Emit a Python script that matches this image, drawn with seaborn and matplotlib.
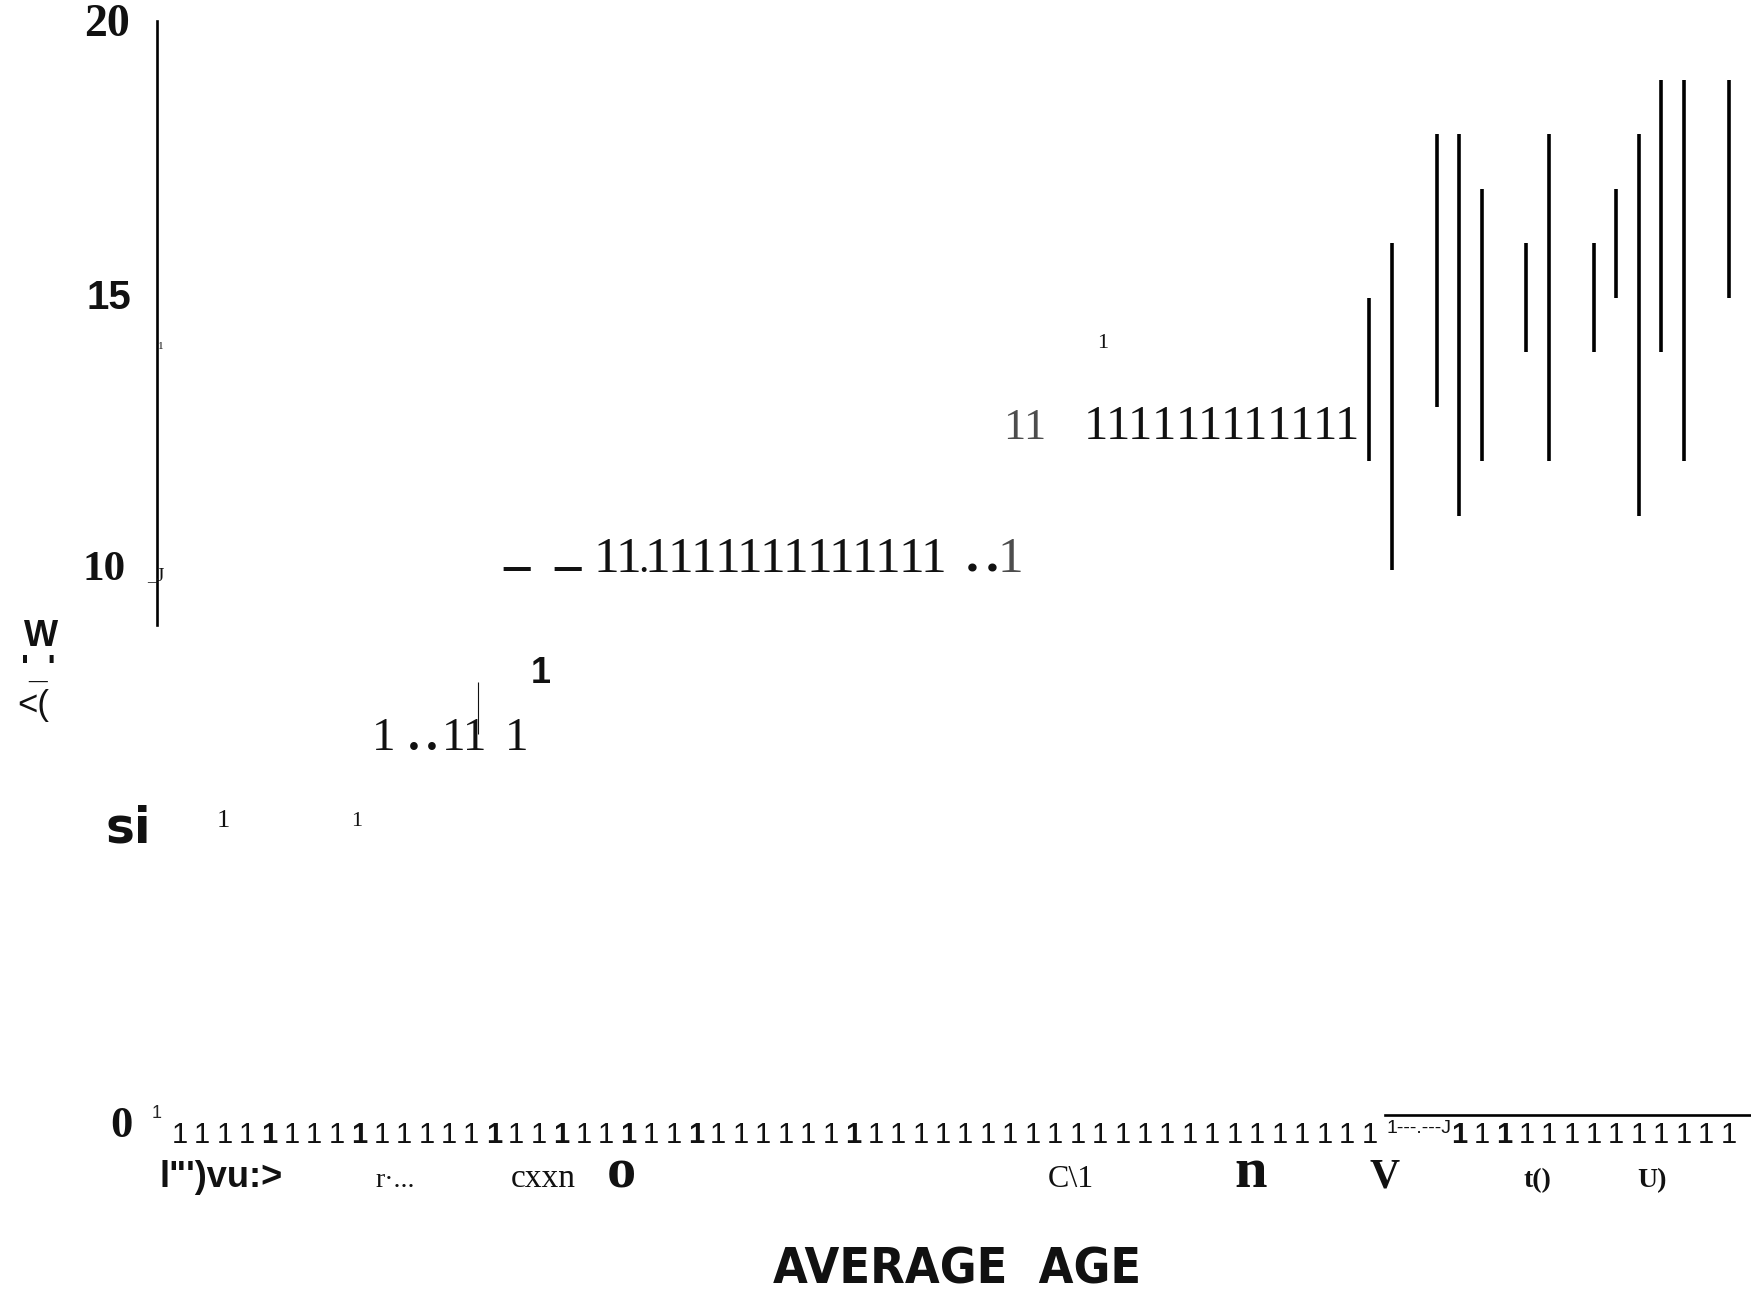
import matplotlib
matplotlib.use("Agg")
import matplotlib.pyplot as plt
from matplotlib import font_manager
import pandas as pd
import seaborn as sns

# range bars on the right: x position, low and high value
bar_x = [54, 55, 57, 58, 59, 61, 62, 64, 65, 66, 67, 68, 70]
bar_low = [12, 10, 13, 11, 12, 14, 12, 14, 15, 11, 14, 12, 15]
bar_high = [15, 16, 18, 18, 17, 16, 18, 16, 17, 18, 19, 19, 19]

# bottom tick row
tick_pos = list(range(1, 71))
tick_bold = [5, 9, 15, 18, 21, 24, 31, 58, 60]
tick_gap = [55, 56, 57]

ytick_vals = [20, 15, 10, 5.25, -0.2]
ytick_text = ["20", "15", "10", "si", "0"]

xlab_pos = [2.85, 10.6, 17.2, 20.7, 40.7, 48.7, 54.7, 61.5, 66.6]
xlab_text = ["l\"')vu:>", "r·...", "cxxn", "o", "C\\1", "n", "V", "t()", "U)"]

# short marks that came out as "1" glyphs
row10_x = [20.0, 21.0, 22.3, 23.3, 24.35, 25.4, 26.4, 27.4, 28.45, 29.5,
           30.5, 31.5, 32.55, 33.6, 34.6]
row10_y = 9.97
row12_x = [41.8, 42.8, 43.8, 44.85, 45.9, 46.9, 47.9, 48.9, 49.95, 51.0, 52.0, 53.0]
row12_thin_x = [38.2, 39.05]
row12_y = 12.4
row7_x = [10.1, 16.0]
row7_pair_x = 13.72
row7_y = 6.7
dash_x = [16.0, 18.3]
dash_y = 10.02


def fam(*names):
    for n in names:
        try:
            font_manager.findfont(font_manager.FontProperties(family=n),
                                  fallback_to_default=False)
            return n
        except ValueError:
            pass
    return "DejaVu Sans"


SERIF = fam("Liberation Serif", "DejaVu Serif")
SANS = fam("Liberation Sans", "DejaVu Sans")
NARROW = fam("Liberation Sans Narrow", "Liberation Sans", "DejaVu Sans")

# a condensed bold face for the axis title, if one is installed
cond_path = font_manager.findfont(font_manager.FontProperties(
    family="DejaVu Sans", stretch="condensed", weight="bold"))
if "Condensed" in cond_path:
    TITLE = dict(family="DejaVu Sans", fontstretch="condensed", fontsize=36)
elif NARROW == "Liberation Sans Narrow":
    TITLE = dict(family=NARROW, fontsize=40)
else:
    TITLE = dict(family=SANS, fontsize=34)

sns.set_theme(style="white")
plt.rcParams["font.family"] = [SANS, "DejaVu Sans"]
plt.rcParams["lines.solid_capstyle"] = "butt"

W, H = 1751, 1291
fig = plt.figure(figsize=(W / 100, H / 100), dpi=100)
ax = fig.add_axes([157 / W, 176 / H, 1 - 157 / W, 1115 / H])

df = pd.DataFrame({
    "x": bar_x + bar_x,
    "y": bar_low + bar_high,
    "bar": list(range(len(bar_x))) * 2,
})
sns.lineplot(data=df, x="x", y="y", units="bar", estimator=None, sort=False,
             color="black", lw=2.6, legend=False, ax=ax)

ax.set_xlim(0, 71)
ax.set_ylim(0, 20.46)
ax.set_xlabel("")
ax.set_ylabel("")

for s in ["top", "right"]:
    ax.spines[s].set_visible(False)
ax.spines["left"].set_bounds(9.0, 20.08)
ax.spines["left"].set_linewidth(1.9)
ax.spines["left"].set_color("black")
ax.spines["bottom"].set_bounds(54.7, 71)
ax.spines["bottom"].set_linewidth(1.9)
ax.spines["bottom"].set_color("black")

ax.set_yticks([])
ax.set_xticks(tick_pos)
ax.set_xticklabels(["" if p in tick_gap else "1" for p in tick_pos],
                   fontfamily=NARROW, fontsize=21, color="#111111")
for lbl, p in zip(ax.get_xticklabels(), tick_pos):
    if p in tick_bold:
        lbl.set_fontweight("bold")
ax.tick_params(axis="x", length=0, pad=4)
ax.text(0.0, 0.02, "1", fontsize=13, family=NARROW, ha="center", va="center", clip_on=False)
ax.text(54.75, -0.1, "1---.---J", fontsize=14, family=NARROW, ha="left", va="top",
        clip_on=False, color="#111111")

# y tick labels, each in its own face
ystyle = [
    dict(family=SERIF, weight="bold", size=33, ha="right", x=-1.2),
    dict(family=SANS, weight="bold", size=29, ha="right", x=-1.16),
    dict(family=SERIF, weight="bold", size=31, ha="right", x=-1.38),
    dict(family="DejaVu Sans", weight="bold", size=35, ha="left", x=-2.3),
    dict(family=SERIF, weight="bold", size=32, ha="right", x=-1.1),
]
for v, t, st in zip(ytick_vals, ytick_text, ystyle):
    ax.text(st["x"], v, t, family=st["family"], fontweight=st["weight"],
            fontsize=st["size"], ha=st["ha"], va="center", clip_on=False, color="#111111")

# second row of x labels
xstyle = [
    dict(family=NARROW, weight="bold", size=26),
    dict(family=SERIF, weight="normal", size=20),
    dict(family=SERIF, weight="normal", size=24),
    dict(family=SERIF, weight="bold", size=42),
    dict(family=SERIF, weight="normal", size=23),
    dict(family=SERIF, weight="bold", size=42),
    dict(family=SERIF, weight="bold", size=30),
    dict(family=SERIF, weight="bold", size=20),
    dict(family=SERIF, weight="bold", size=20),
]
for p, t, st in zip(xlab_pos, xlab_text, xstyle):
    ax.text(p, -1.33, t, family=st["family"], fontweight=st["weight"],
            fontsize=st["size"], ha="center", va="baseline", clip_on=False, color="#111111")

fig.text(957 / W, 8 / H, "AVERAGE  AGE", ha="center", va="baseline",
         fontweight="bold", color="#111111", **TITLE)

# broken y label
fig.text(41 / W, 1 - 636 / H, "W", ha="center", va="center", fontsize=26,
         fontweight="bold", family=SANS, color="#111111")
fig.text(38 / W, 1 - 678 / H, "'_'", ha="center", va="baseline", fontsize=24,
         fontweight="bold", family=SANS, color="#111111")
fig.text(33 / W, 1 - 706 / H, "<(", ha="center", va="center", fontsize=25,
         family=SANS, color="#111111")

# glyph rows in the plot area
for x in row10_x:
    ax.text(x, row10_y, "1", family=SERIF, fontsize=37, ha="center", va="baseline", color="#111111")
ax.text(21.65, row10_y, ".", family=SERIF, fontsize=30, ha="center", va="baseline", color="#111111")
for x in [36.3, 37.2]:
    ax.text(x, row10_y, ".", family=SERIF, fontweight="bold", fontsize=37,
            ha="center", va="baseline", color="#111111")
ax.text(38.0, row10_y, "1", family=SERIF, fontsize=37, ha="center", va="baseline",
        color="#111111", alpha=0.75)
for x in dash_x:
    ax.text(x, dash_y, "–", family=SERIF, fontweight="bold", fontsize=38,
            ha="center", va="center", color="#111111")

for x in row12_x:
    ax.text(x, row12_y, "1", family=SERIF, fontsize=35, ha="center", va="baseline", color="#111111")
for x in row12_thin_x:
    ax.text(x, row12_y, "1", family=SERIF, fontsize=32, ha="center", va="baseline",
            color="#111111", alpha=0.75)
ax.text(42.1, 14.15, "1", family=SERIF, fontsize=16, ha="center", va="center", color="#111111")

for x in row7_x:
    ax.text(x, row7_y, "1", family=SERIF, fontsize=34, ha="center", va="baseline", color="#111111")
ax.text(row7_pair_x, row7_y, "11", family=SERIF, fontsize=34, ha="center", va="baseline",
        color="#111111")
for x in [11.45, 12.25]:
    ax.text(x, row7_y, ".", family=SERIF, fontweight="bold", fontsize=34,
            ha="center", va="baseline", color="#111111")
ax.vlines(14.3, 7.0, 7.95, color="#111111", lw=0.8)
ax.text(17.1, 8.1, "1", family=SANS, fontweight="bold", fontsize=26,
        ha="center", va="center", color="#111111")

ax.text(2.94, 5.4, "1", family=SERIF, fontsize=19, ha="center", va="center", color="#111111")
ax.text(8.9, 5.38, "1", family=SERIF, fontsize=16, ha="center", va="center", color="#111111")
ax.text(-0.05, 9.9, "_J", family=SERIF, fontsize=14, ha="center", va="center",
        clip_on=False, color="#111111")
ax.text(0.15, 14.1, "1", family=SERIF, fontsize=8, ha="center", va="center", color="#111111")

fig.savefig("out.png", dpi=100, facecolor="white")
